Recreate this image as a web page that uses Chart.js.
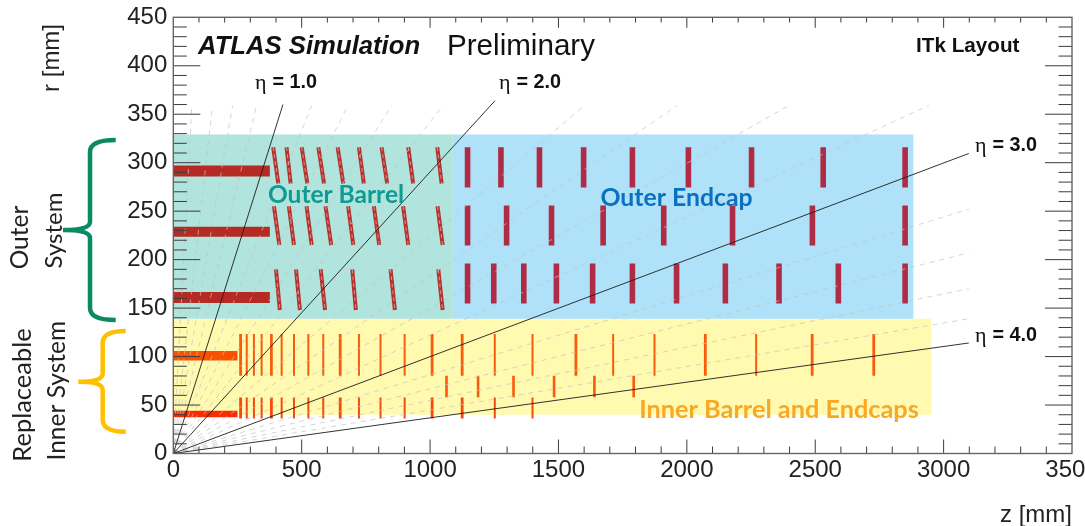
<!DOCTYPE html>
<html>
<head>
<meta charset="utf-8">
<style>
  html, body { margin: 0; padding: 0; background: #fff; }
  canvas { display: block; }
</style>
<script src="https://cdn.jsdelivr.net/npm/chart.js@4/dist/chart.umd.min.js"></script>
</head>
<body>
<canvas id="c" width="1085" height="526"></canvas>
<script>
// ── Values ──
const zTicks = [0, 500, 1000, 1500, 2000, 2500, 3000, 3500];
const rTicks = [0, 50, 100, 150, 200, 250, 300, 350, 400, 450];

// Background regions: [z from, z to, r low, r high]
const outerBarrelBox = [0, 1089, 139, 329];
const outerEndcapBox = [1089, 2883, 139, 329];
const innerBox = [0, 2953, 40, 139];

// Flat barrel layers
const outerBarrelR = [291.5, 228.7, 161];
const outerBarrelEnd = 376;
const innerBarrelR = [100.8];
const innerBarrelLowR = [40.7];
const innerBarrelEnd = 250;

// Outer barrel rings, slanted: z at top, z at bottom
const staveTopZ1 = [389, 441, 500, 565, 640, 723, 811, 915, 1028];
const staveTopZ2 = [409, 457, 522, 587, 662, 742, 833, 934, 1045];
const staveMidZ1 = [392, 450, 519, 593, 681, 781, 895, 1029];
const staveMidZ2 = [413, 470, 539, 615, 701, 802, 915, 1049];
const staveLowZ1 = [400, 478, 574, 697, 846, 1032];
const staveLowZ2 = [415, 493, 591, 711, 863, 1049];
const staveTopR = [316, 278.5];
const staveMidR = [255, 215];
const staveLowR = [190, 148];

// Outer endcap rings
const endcapTopZ = [1146, 1276, 1426, 1598, 1788, 2006, 2252, 2531, 2850];
const endcapMidZ = [1146, 1298, 1473, 1674, 1910, 2178, 2489, 2850];
const endcapLowZ = [1146, 1248, 1365, 1492, 1633, 1788, 1960, 2150, 2359, 2590, 2850];
const endcapTopR = [316, 274.4];
const endcapMidR = [255.9, 214.6];
const endcapLowR = [196, 154.8];

// Inner system rings
const innerWideZ = [262, 382, 650, 1008, 1125, 1568, 2072, 2488, 2728];
const innerThinZ = [286, 314, 344, 422, 470, 526, 584, 723, 807, 901, 1252, 1399, 1713, 1874, 2270];
const innerLowWideZ = [262, 382, 650, 1008, 1125];
const innerLowThinZ = [286, 314, 344, 422, 470, 526, 584, 723, 807, 901, 1252, 1399];
const innerMidZ = [1064, 1187, 1325, 1483, 1640, 1793];
const innerUpR = [123.2, 80.2];
const innerMidR = [80.2, 58];
const innerLowR = [57.9, 36.2];

// Eta lines from the origin, end points [z, r]
const etaSolidEnds = [[427, 360], [1253, 364], [3098, 309.5], [3098, 114]];
const etaDashEnds = [[72, 359], [153, 359], [231, 359], [324, 359], [539, 359], [680, 359], [850, 359], [1050, 359],
  [1602, 359], [1962, 359], [2398, 359], [2942, 359], [3098, 252], [3098, 207], [3098, 170], [3098, 139]];

const etaLabels = ['1.0', '2.0', '3.0', '4.0'];

// ── Helpers ──
const vert = (zs, r) => zs.flatMap(z => [{x: z, y: r[0]}, {x: z, y: r[1]}, {x: null, y: null}]);
const slant = (z1, z2, r) => z1.flatMap((z, i) => [{x: z, y: r[0]}, {x: z2[i], y: r[1]}, {x: null, y: null}]);
const horiz = (rs, end) => rs.flatMap(r => [{x: 0, y: r}, {x: end, y: r}, {x: null, y: null}]);
const fromOrigin = ends => ends.flatMap(e => [{x: 0, y: 0}, {x: e[0], y: e[1]}, {x: null, y: null}]);

const box = (b, color) => ({
  data: [{x: b[0], y: b[3]}, {x: b[1], y: b[3]}],
  showLine: true, borderWidth: 0, pointRadius: 0, backgroundColor: color,
  fill: {target: {value: b[2]}}, order: 30
});
const seg = (data, color, width, order, extra) => Object.assign({
  data, showLine: true, borderColor: color, borderWidth: width, pointRadius: 0, fill: false, order
}, extra || {});

const staves = [...slant(staveTopZ1, staveTopZ2, staveTopR), ...slant(staveMidZ1, staveMidZ2, staveMidR), ...slant(staveLowZ1, staveLowZ2, staveLowR)];
const endcaps = [...vert(endcapTopZ, endcapTopR), ...vert(endcapMidZ, endcapMidR), ...vert(endcapLowZ, endcapLowR)];

const datasets = [
  box(outerBarrelBox, '#b0e4dc'),
  box(outerEndcapBox, '#afe2f8'),
  box(innerBox, '#fffab0'),
  seg(horiz([outerBarrelR[0]], outerBarrelEnd), '#b62a24', 11, 20),
  seg(horiz([outerBarrelR[1]], outerBarrelEnd), '#b62a24', 10, 20),
  seg(horiz([outerBarrelR[2]], outerBarrelEnd), '#b62a24', 11, 20),
  seg(horiz(innerBarrelR, innerBarrelEnd), '#fb5000', 9.5, 20),
  seg(horiz(innerBarrelLowR, innerBarrelEnd), '#fb2c04', 6.5, 20),
  seg(staves, '#b5322e', 4, 20),
  seg(staves, 'rgba(240,205,195,0.6)', 1, 19, {borderDash: [4, 3]}),
  seg(endcaps, '#b02b45', 5.6, 20),
  seg(vert(innerWideZ, innerUpR), '#f95a0c', 2.8, 20),
  seg(vert(innerThinZ, innerUpR), '#f95a0c', 2, 20),
  seg(vert(innerMidZ, innerMidR), '#f95a0c', 2.6, 20),
  seg(vert(innerLowWideZ, innerLowR), '#f8480c', 2.8, 20),
  seg(vert(innerLowThinZ, innerLowR), '#f8480c', 2, 20),
  seg(fromOrigin(etaDashEnds), 'rgba(195,195,195,0.7)', 1, 10, {borderDash: [5, 5]}),
  seg(fromOrigin(etaSolidEnds), '#1c1c1c', 0.9, 5)
];

// Inward ticks on all four sides plus the frame, ROOT style
const frameTicks = {
  id: 'frameTicks',
  afterDatasetsDraw(chart) {
    const ctx = chart.ctx, a = chart.chartArea, xs = chart.scales.x, ys = chart.scales.y;
    ctx.save();
    ctx.strokeStyle = '#3c3c3c';
    ctx.lineWidth = 1;
    ctx.beginPath();
    for (let z = 100; z < 3500; z += 100) {
      const len = z % 500 === 0 ? 14 : 7, p = xs.getPixelForValue(z);
      ctx.moveTo(p, a.bottom); ctx.lineTo(p, a.bottom - len);
      ctx.moveTo(p, a.top); ctx.lineTo(p, a.top + len * 0.75);
    }
    for (let r = 10; r < 450; r += 10) {
      const len = r % 50 === 0 ? 27 : 13.5, p = ys.getPixelForValue(r);
      ctx.moveTo(a.left, p); ctx.lineTo(a.left + len, p);
      ctx.moveTo(a.right, p); ctx.lineTo(a.right - len, p);
    }
    ctx.stroke();
    ctx.strokeStyle = '#666';
    ctx.lineWidth = 1.4;
    ctx.strokeRect(a.left, a.top, a.right - a.left, a.bottom - a.top);
    ctx.restore();
  }
};

function brace(ctx, xv, xEnd, xTip, yTop, yMid, yBot, color) {
  ctx.strokeStyle = color;
  ctx.lineWidth = 4.5;
  ctx.lineCap = 'butt';
  ctx.beginPath();
  ctx.moveTo(xEnd, yTop);
  ctx.quadraticCurveTo(xv, yTop, xv, yTop + 12);
  ctx.lineTo(xv, yMid - 8);
  ctx.quadraticCurveTo(xv, yMid, xTip, yMid);
  ctx.quadraticCurveTo(xv, yMid, xv, yMid + 8);
  ctx.lineTo(xv, yBot - 12);
  ctx.quadraticCurveTo(xv, yBot, xEnd, yBot);
  ctx.stroke();
}

function label(ctx, text, x, y, font, color, align) {
  ctx.font = font;
  ctx.fillStyle = color;
  ctx.textAlign = align || 'left';
  ctx.textBaseline = 'middle';
  ctx.fillText(text, x, y);
}

function rotLabel(ctx, text, x, y, font, color) {
  ctx.save();
  ctx.translate(x, y);
  ctx.rotate(-Math.PI / 2);
  label(ctx, text, 0, 0, font, color, 'center');
  ctx.restore();
}

const annotations = {
  id: 'annotations',
  afterDraw(chart) {
    const ctx = chart.ctx;
    ctx.save();
    const sans = '"Liberation Sans", Arial, sans-serif';
    label(ctx, 'ATLAS Simulation', 198, 47, 'italic bold 25.7px ' + sans, '#111');
    label(ctx, 'Preliminary', 447, 47, '29.6px ' + sans, '#111');
    label(ctx, 'ITk Layout', 916, 46, 'bold 20.7px ' + sans, '#111');

    const etaPos = [[255, 83], [499, 83], [975, 146], [975, 336]];
    etaPos.forEach((p, i) => {
      label(ctx, 'η', p[0], p[1], '22px "Liberation Serif", serif', '#111');
      label(ctx, '= ' + etaLabels[i], p[0] + 17.5, p[1], 'bold 19.8px ' + sans, '#111');
    });

    label(ctx, 'Outer Barrel', 336, 195, 'bold 24.5px Lato, sans-serif', '#0f9a94', 'center');
    label(ctx, 'Outer Endcap', 676.5, 198, 'bold 24.8px Lato, sans-serif', '#0a70c0', 'center');
    label(ctx, 'Inner Barrel and Endcaps', 779, 410, 'bold 25.3px Lato, sans-serif', '#f9a825', 'center');

    brace(ctx, 90, 115.7, 63, 140, 230, 320, '#0a8a63');
    brace(ctx, 102.7, 125.7, 78.3, 331, 381.7, 431.7, '#ffc000');

    rotLabel(ctx, 'Outer', 20, 237.5, '24.5px Lato, sans-serif', '#222');
    rotLabel(ctx, 'System', 54, 230.5, '24px Lato, sans-serif', '#222');
    rotLabel(ctx, 'Replaceable', 23, 395, '25.5px Lato, sans-serif', '#222');
    rotLabel(ctx, 'Inner System', 57, 390.7, '24.5px Lato, sans-serif', '#222');
    ctx.restore();
  }
};

const tickFont = {family: '"Liberation Sans", Arial, sans-serif', size: 24};
const titleFont = {family: '"Liberation Sans", Arial, sans-serif', size: 24, lineHeight: 1};

new Chart(document.getElementById('c'), {
  type: 'scatter',
  data: {datasets},
  plugins: [frameTicks, annotations],
  options: {
    responsive: false,
    animation: false,
    events: [],
    layout: {padding: {top: 17.3, right: 13, left: 0, bottom: 0}},
    plugins: {legend: {display: false}, tooltip: {enabled: false}, title: {display: false}},
    scales: {
      x: {
        type: 'linear', min: 0, max: 3500,
        grid: {display: false, drawTicks: false}, border: {display: false},
        afterBuildTicks: s => { s.ticks = zTicks.map(value => ({value})); },
        afterFit: s => { s.height = 72.5; s.paddingLeft = 0; s.paddingRight = 0; },
        ticks: {font: tickFont, color: '#222', padding: 2, maxRotation: 0, autoSkip: false, callback: v => String(v)},
        title: {display: true, text: 'z [mm]', align: 'end', font: titleFont, color: '#222', padding: {top: 0, bottom: -1.5}}
      },
      y: {
        type: 'linear', min: 0, max: 450,
        grid: {display: false, drawTicks: false}, border: {display: false},
        afterBuildTicks: s => { s.ticks = rTicks.map(value => ({value})); },
        afterFit: s => { s.width = 173.3; s.paddingTop = 0; s.paddingBottom = 0; },
        ticks: {font: tickFont, color: '#222', padding: 6, autoSkip: false, callback: v => String(v)},
        title: {display: true, text: 'r [mm] ', align: 'end', font: titleFont, color: '#222', padding: {top: 40, bottom: 0}}
      }
    }
  }
});
</script>
</body>
</html>
